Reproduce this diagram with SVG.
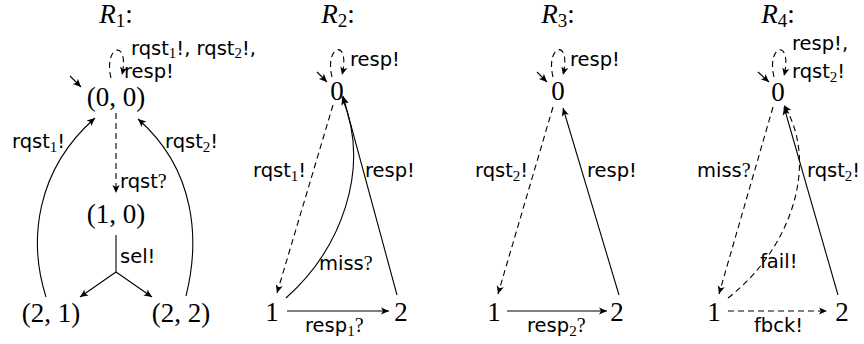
<svg xmlns="http://www.w3.org/2000/svg" width="864" height="344" viewBox="0 0 864 344">
<style>
.title{font-family:"Liberation Serif",serif;font-size:27px;fill:#000}
.it{font-style:italic}
.tsub{font-size:19px}
.node{font-family:"Liberation Serif",serif;font-size:27px;fill:#000;text-anchor:middle}
.lbl{font-family:"DejaVu Sans",sans-serif;font-size:19.5px;fill:#000}
.sub{font-family:"Liberation Serif",serif;font-size:15px}
.q{font-family:"Liberation Serif",serif;font-size:20px}
.e{fill:none;stroke:#000;stroke-width:1.1;marker-end:url(#ah)}
.d{stroke-dasharray:6 4}
.ln{fill:none;stroke:#000;stroke-width:1.1}
</style>
<defs>
<marker id="ah" markerUnits="userSpaceOnUse" markerWidth="12" markerHeight="12" viewBox="-10 -6 12 12" refX="0" refY="0" orient="auto">
<path d="M0,0 L-8,-3.6 L-6,0 L-8,3.6 Z" fill="#000" stroke="none"/>
</marker>
</defs>

<!-- Titles -->
<text class="title" x="116" y="23" text-anchor="middle"><tspan class="it">R</tspan><tspan class="tsub" baseline-shift="-4">1</tspan>:</text>
<text class="title" x="338" y="23" text-anchor="middle"><tspan class="it">R</tspan><tspan class="tsub" baseline-shift="-4">2</tspan>:</text>
<text class="title" x="558" y="23" text-anchor="middle"><tspan class="it">R</tspan><tspan class="tsub" baseline-shift="-4">3</tspan>:</text>
<text class="title" x="778" y="23" text-anchor="middle"><tspan class="it">R</tspan><tspan class="tsub" baseline-shift="-4">4</tspan>:</text>

<!-- R1 nodes -->
<g id="r1-00"><text class="node" x="116" y="106">(0, 0)</text></g>
<g id="r1-10"><text class="node" x="116" y="223">(1, 0)</text></g>
<g id="r1-21"><text class="node" x="51" y="322">(2, 1)</text></g>
<g id="r1-22"><text class="node" x="181" y="322">(2, 2)</text></g>

<!-- R2 nodes -->
<g id="r2-0"><text class="node" x="337" y="100">0</text></g>
<g id="r2-1"><text class="node" x="272" y="321">1</text></g>
<g id="r2-2"><text class="node" x="401" y="321">2</text></g>

<!-- R3 nodes -->
<g id="r3-0"><text class="node" x="558" y="100">0</text></g>
<g id="r3-1"><text class="node" x="494" y="321">1</text></g>
<g id="r3-2"><text class="node" x="617" y="321">2</text></g>

<!-- R4 nodes -->
<g id="r4-0"><text class="node" x="778" y="101">0</text></g>
<g id="r4-1"><text class="node" x="714" y="321">1</text></g>
<g id="r4-2"><text class="node" x="842" y="321">2</text></g>

<g id="connectors">
<!-- R1 -->
<path class="e" d="M70,76 L81,87"/>
<path class="e d" d="M111,78 C103,45 130,38 122,75"/>
<path class="e d" d="M116,113 L116,193"/>
<path class="ln" d="M116,235 L116,272"/>
<path class="e" d="M116,272 L80,297"/>
<path class="e" d="M116,272 L152,297"/>
<path class="e" d="M46,297 C28,240 36,170 95,118"/>
<path class="e" d="M186,296 C200,240 196,170 138,119"/>

<!-- R2 -->
<path class="e" d="M317,72 L327,82"/>
<path class="e d" d="M332,77 C324,44 351,38 342,75"/>
<path class="e d" d="M333,105 L277,293"/>
<path class="e" d="M287,311 L389,311"/>
<path class="e" d="M286,298 C340,250 372,170 342,97"/>
<path class="e" d="M397,295 L343,96"/>

<!-- R3 -->
<path class="e" d="M537,72 L547,82"/>
<path class="e d" d="M553,77 C545,44 572,38 563,75"/>
<path class="e d" d="M553,107 L498,294"/>
<path class="e" d="M507,311 L607,311"/>
<path class="e" d="M619,295 L563,108"/>

<!-- R4 -->
<path class="e" d="M758,72 L769,82"/>
<path class="e d" d="M774,77 C766,44 793,38 784,76"/>
<path class="e d" d="M773,107 L719,294"/>
<path class="e d" d="M728,311 L827,311"/>
<path class="e d" d="M728,298 C790,250 820,165 784,105"/>
<path class="e" d="M838,295 L784,107"/>
</g>

<g id="labels">
<!-- R1 -->
<text class="lbl" x="131" y="55">rqst<tspan class="sub" baseline-shift="-3">1</tspan>!, rqst<tspan class="sub" baseline-shift="-3">2</tspan>!,</text>
<text class="lbl" x="124" y="78">resp!</text>
<text class="lbl" x="120" y="188">rqst<tspan class="q">?</tspan></text>
<text class="lbl" x="120" y="263">sel!</text>
<text class="lbl" x="12" y="148">rqst<tspan class="sub" baseline-shift="-4">1</tspan>!</text>
<text class="lbl" x="165" y="148">rqst<tspan class="sub" baseline-shift="-4">2</tspan>!</text>

<!-- R2 -->
<text class="lbl" x="350" y="66">resp!</text>
<text class="lbl" x="253" y="177">rqst<tspan class="sub" baseline-shift="-4">1</tspan>!</text>
<text class="lbl" x="365" y="177">resp!</text>
<text class="lbl" x="319" y="270">miss<tspan class="q">?</tspan></text>
<text class="lbl" x="305" y="332">resp<tspan class="sub" baseline-shift="-4">1</tspan><tspan class="q">?</tspan></text>

<!-- R3 -->
<text class="lbl" x="570" y="66">resp!</text>
<text class="lbl" x="475" y="177">rqst<tspan class="sub" baseline-shift="-4">2</tspan>!</text>
<text class="lbl" x="587" y="177">resp!</text>
<text class="lbl" x="527" y="332">resp<tspan class="sub" baseline-shift="-4">2</tspan><tspan class="q">?</tspan></text>

<!-- R4 -->
<text class="lbl" x="792" y="50">resp!,</text>
<text class="lbl" x="792" y="78">rqst<tspan class="sub" baseline-shift="-4">2</tspan>!</text>
<text class="lbl" x="697" y="177">miss<tspan class="q">?</tspan></text>
<text class="lbl" x="807" y="177">rqst<tspan class="sub" baseline-shift="-4">2</tspan>!</text>
<text class="lbl" x="760" y="268">fail!</text>
<text class="lbl" x="754" y="332">fbck!</text>
</g>
</svg>
